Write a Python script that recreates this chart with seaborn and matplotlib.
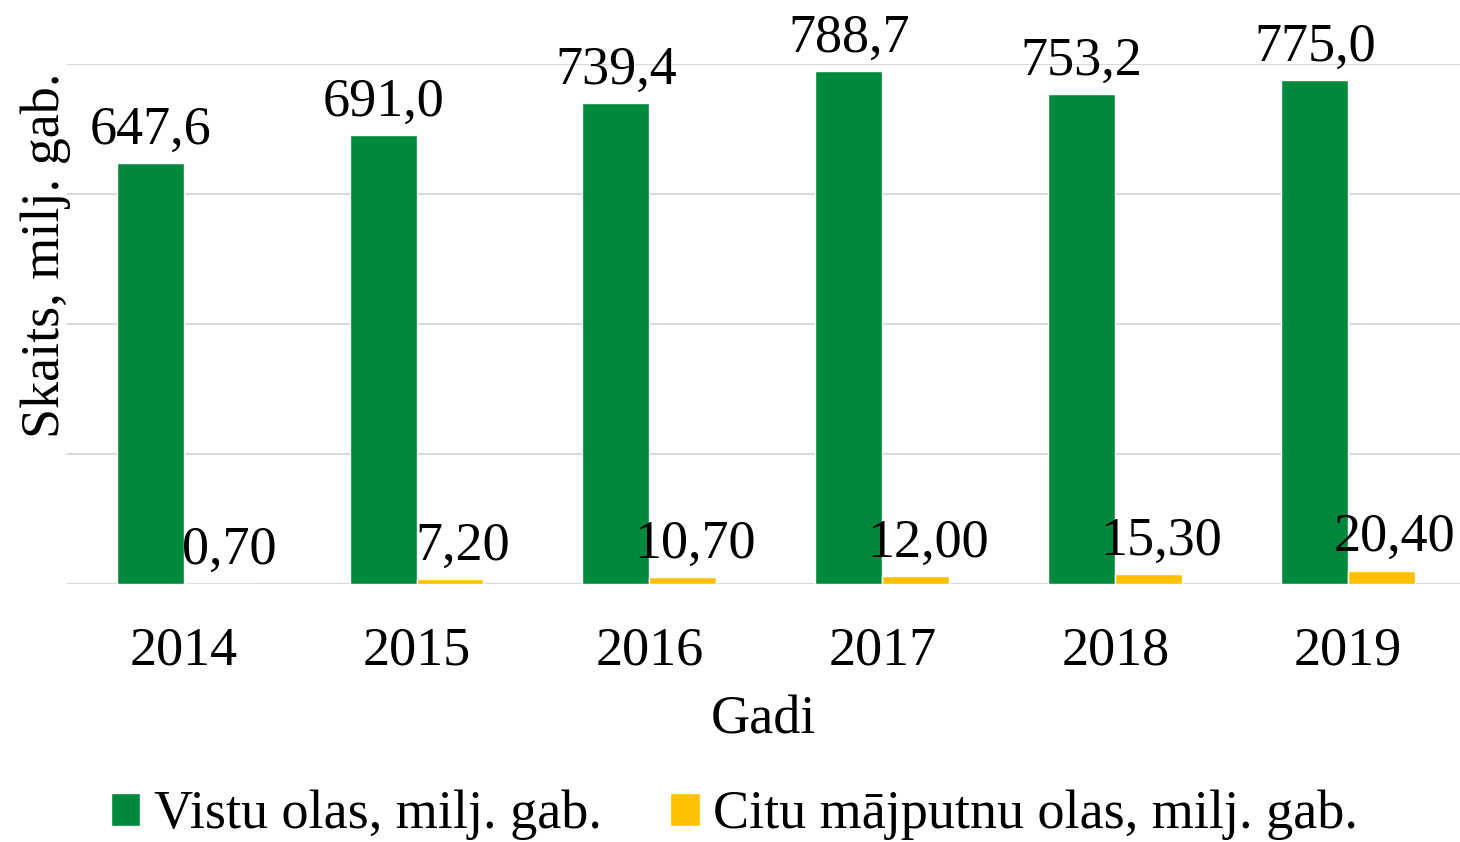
import pandas as pd
import seaborn as sns
import matplotlib.pyplot as plt

# data
years = ["2014", "2015", "2016", "2017", "2018", "2019"]
chicken_eggs = [647.6, 691.0, 739.4, 788.7, 753.2, 775.0]
other_eggs = [0.70, 7.20, 10.70, 12.00, 15.30, 20.40]
series_names = ["Vistu olas, milj. gab.", "Citu mājputnu olas, milj. gab."]
colors = ["#00893D", "#FFC000"]

df = pd.DataFrame({
    "Gadi": years * 2,
    "Skaits": chicken_eggs + other_eggs,
    "Veids": [series_names[0]] * len(years) + [series_names[1]] * len(years),
})

sns.set_theme(style="white")
plt.rcParams["font.family"] = ["Liberation Serif", "DejaVu Serif"]
plt.rcParams["text.color"] = "black"
plt.rcParams["axes.labelcolor"] = "black"
plt.rcParams["xtick.color"] = "black"
fs = 39

fig = plt.figure(figsize=(14.6, 8.42), dpi=100)
ax = fig.add_axes([0.046, 0.3064, 0.954, 0.6176])

sns.barplot(data=df, x="Gadi", y="Skaits", hue="Veids", palette=colors,
            width=0.575, gap=0, saturation=1, ax=ax, legend=True)

ax.set_ylim(0, 800)
ax.set_xlim(-0.5, 5.48)
ax.set_yticks([0, 200, 400, 600, 800])
ax.set_yticklabels([])
ax.grid(axis="y", color="#D9D9D9", linewidth=1.5)
ax.set_axisbelow(True)
for s in ax.spines.values():
    s.set_visible(False)
ax.tick_params(axis="x", length=0, pad=30, labelsize=fs, labelcolor="black")
ax.tick_params(axis="y", length=0)

# value labels
for cont, fmt, dx in zip(ax.containers, ["{:.1f}", "{:.2f}"], [0, 9]):
    for bar in cont:
        h = bar.get_height()
        ax.annotate(fmt.format(h).replace(".", ","),
                    (bar.get_x() + bar.get_width() / 2, h),
                    xytext=(dx, 14), textcoords="offset points",
                    ha="center", va="baseline", fontsize=fs, color="black",
                    annotation_clip=False)

ax.set_xlabel("Gadi", fontsize=fs, color="black")
ax.xaxis.set_label_coords(0.5, -0.213)
ax.set_ylabel("Skaits, milj. gab.", fontsize=fs, color="black")
ax.yaxis.set_label_coords(0.003, 0.633)

handles, labels = ax.get_legend_handles_labels()
ax.get_legend().remove()
fig.legend(handles, labels, loc="lower center", bbox_to_anchor=(0.503, -0.056),
           ncol=2, frameon=False, fontsize=fs, handlelength=0.55,
           handleheight=0.55, handletextpad=0.25, columnspacing=1.25)

fig.savefig("out.png", dpi=100)
